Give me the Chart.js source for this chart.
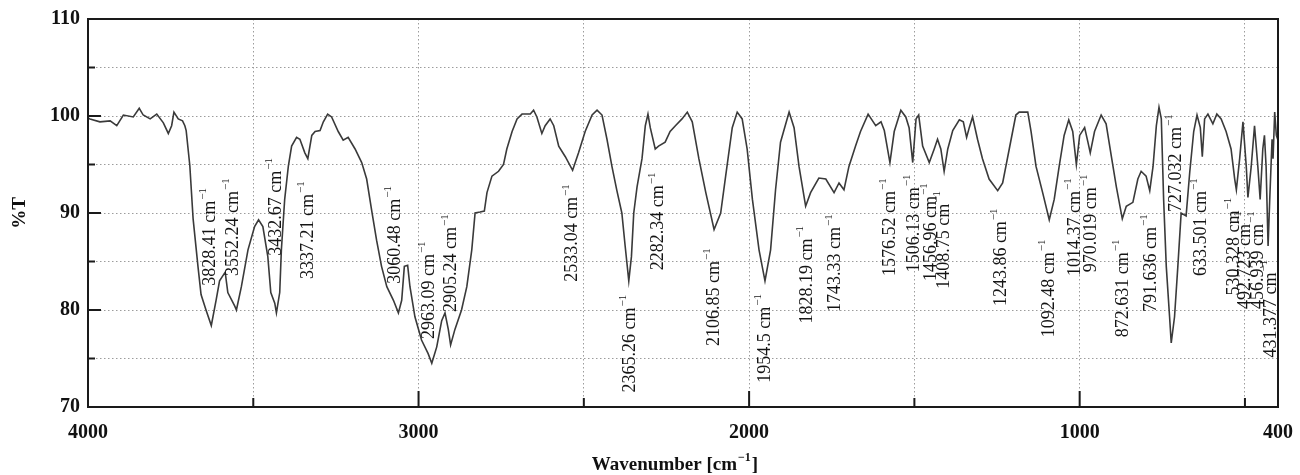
<!DOCTYPE html>
<html>
<head>
<meta charset="utf-8">
<script src="https://cdn.jsdelivr.net/npm/chart.js@4.4.1/dist/chart.umd.min.js"></script>
<style>
  html, body { margin: 0; padding: 0; background: #fff; }
  canvas { display: block; }
</style>
</head>
<body>
<canvas id="ir" width="1300" height="475"></canvas>
<script>
// ─── Spectrum (cm-1 / %T) ──────────────────────────────────────────────────
const wavenumber = [
  4000, 3994, 3964, 3933, 3913, 3893, 3863, 3845, 3833, 3812, 3792, 3772, 3757, 3747, 3740, 3727, 3714, 3707,
  3703, 3692, 3682, 3667, 3658, 3643, 3627, 3612, 3602, 3585, 3577, 3556, 3551, 3536, 3516, 3496, 3484, 3471,
  3456, 3447, 3435, 3430, 3420, 3415, 3405, 3394, 3384, 3369, 3359, 3344, 3335, 3323, 3313, 3298, 3288, 3275,
  3263, 3243, 3228, 3213, 3192, 3172, 3157, 3142, 3127, 3112, 3096, 3076, 3061, 3051, 3043, 3033, 3026, 3011,
  2991, 2971, 2960, 2945, 2930, 2920, 2910, 2903, 2890, 2870, 2854, 2839, 2829, 2814, 2801, 2793, 2778, 2758,
  2743, 2733, 2717, 2702, 2687, 2662, 2652, 2642, 2627, 2617, 2602, 2591, 2576, 2556, 2534, 2516, 2496, 2475,
  2460, 2445, 2430, 2415, 2400, 2385, 2375, 2364, 2356, 2349, 2339, 2324, 2314, 2306, 2299, 2284, 2274, 2254,
  2239, 2223, 2203, 2187, 2172, 2152, 2131, 2106, 2086, 2071, 2051, 2036, 2021, 2006, 1990, 1970, 1952, 1935,
  1920, 1905, 1879, 1864, 1849, 1829, 1814, 1789, 1768, 1743, 1728, 1713, 1698, 1678, 1663, 1640, 1617, 1601,
  1591, 1574, 1561, 1541, 1526, 1516, 1505, 1495, 1487, 1475, 1455, 1440, 1430, 1420, 1410, 1399, 1384, 1364,
  1352, 1342, 1334, 1324, 1309, 1294, 1274, 1248, 1233, 1213, 1193, 1183, 1157, 1147, 1132, 1112, 1092, 1077,
  1062, 1047, 1033, 1021, 1010, 1000, 985, 975, 968, 955, 935, 920, 904, 889, 871, 859, 839, 824,
  814, 799, 788, 778, 768, 760, 753, 746, 738, 728, 723, 713, 703, 693, 678, 667, 655, 645,
  635, 629, 622, 612, 597, 585, 572, 557, 542, 531, 526, 516, 506, 496, 491, 481, 471, 461,
  454, 446, 441, 436, 430, 425, 418, 415, 410, 405, 400
];
const transmittance = [
  99.8, 99.7, 99.4, 99.5, 99.0, 100.1, 99.9, 100.8, 100.1, 99.7, 100.2, 99.3, 98.2, 99.0, 100.4, 99.7, 99.5, 99.0,
  98.5, 94.9, 89.4, 84.4, 81.6, 80.0, 78.4, 81.1, 83.0, 83.9, 81.8, 80.4, 80.0, 82.4, 86.2, 88.6, 89.3, 88.6,
  85.5, 81.8, 80.7, 79.7, 81.8, 86.2, 91.4, 94.8, 96.9, 97.8, 97.6, 96.2, 95.6, 98.0, 98.4, 98.5, 99.4, 100.2,
  99.9, 98.4, 97.5, 97.8, 96.6, 95.2, 93.5, 90.3, 87.2, 84.5, 82.4, 81.0, 79.7, 81.0, 84.5, 84.6, 82.4, 79.3,
  76.9, 75.5, 74.5, 76.2, 78.9, 79.7, 78.0, 76.4, 78.0, 80.0, 82.4, 86.2, 90.0, 90.1, 90.2, 92.1, 93.8, 94.3,
  95.0, 96.6, 98.4, 99.7, 100.2, 100.2, 100.6, 99.9, 98.2, 99.0, 99.7, 99.0, 96.9, 95.8, 94.4, 96.2, 98.4, 100.1,
  100.6, 100.1, 97.6, 94.8, 92.3, 90.0, 86.6, 83.0, 85.5, 90.0, 92.7, 95.6, 99.0, 100.2, 98.8, 96.6, 96.9, 97.3,
  98.4, 99.0, 99.7, 100.4, 99.4, 95.6, 92.1, 88.3, 90.0, 93.8, 98.8, 100.4, 99.7, 96.6, 91.4, 86.2, 83.0, 86.2,
  92.4, 97.3, 100.4, 98.8, 94.8, 90.7, 92.1, 93.6, 93.5, 92.1, 93.1, 92.4, 94.8, 96.9, 98.4, 100.2, 99.0, 99.4,
  98.5, 95.2, 98.4, 100.6, 99.9, 98.8, 95.2, 99.7, 100.1, 96.9, 95.2, 96.6, 97.6, 96.6, 94.3, 96.6, 98.5, 99.6,
  99.4, 97.8, 98.8, 99.9, 97.6, 95.6, 93.5, 92.3, 93.1, 96.6, 100.1, 100.4, 100.4, 98.4, 94.8, 92.1, 89.3, 91.4,
  94.8, 98.0, 99.6, 98.4, 95.0, 98.0, 98.8, 97.3, 96.2, 98.4, 100.1, 99.2, 95.8, 92.7, 89.4, 90.7, 91.1, 93.5,
  94.3, 93.8, 92.3, 94.8, 99.0, 100.9, 99.7, 91.4, 84.5, 79.3, 76.6, 79.3, 84.5, 90.0, 89.7, 94.2, 98.4, 100.1,
  98.8, 95.8, 99.7, 100.2, 99.2, 100.2, 99.7, 98.4, 96.6, 93.5, 92.4, 95.6, 99.4, 94.8, 91.6, 94.8, 99.0, 94.8,
  91.4, 96.6, 98.0, 94.8, 86.6, 91.4, 97.6, 95.6, 100.4, 98.0, 97.5
];

// ─── Axes ───────────────────────────────────────────────────────────────────
const xTickLabels = [4000, 3000, 2000, 1000, 400];
const xGridValues = [3500, 3000, 2500, 2000, 1500, 1000, 500];
const yTickLabels = [110, 100, 90, 80, 70];
const yGridValues = [105, 100, 95, 90, 85, 80, 75];

// ─── Peak annotations: text, anchor wavenumber, %T at the foot of the text ──
const peakText = [
  '3828.41', '3552.24', '3432.67', '3337.21', '3060.48', '2963.09', '2905.24', '2533.04', '2365.26', '2282.34',
  '2106.85', '1954.5', '1828.19', '1743.33', '1576.52', '1506.13', '1456.96', '1408.75', '1243.86', '1092.48',
  '1014.37', '970.019', '872.631', '791.636', '727.032', '633.501', '530.328', '492.723', '456.939', '431.377'
];
const peakX = [
  3631, 3561, 3430, 3334, 3071, 2968, 2900, 2534, 2360, 2274,
  2106, 1952, 1824, 1738, 1574, 1500, 1450, 1410, 1238, 1092,
  1014, 966, 869, 784, 708, 632, 531, 500, 460, 420
];
const peakY = [
  82.5, 83.5, 85.6, 83.2, 82.7, 77.0, 79.8, 82.9, 71.5, 84.1,
  76.3, 72.5, 78.6, 79.8, 83.5, 83.9, 83.0, 82.2, 80.4, 77.2,
  83.5, 83.9, 77.2, 79.8, 90.1, 83.5, 81.5, 80.1, 80.1, 75.1
];

const SERIF = '"Liberation Serif", "Times New Roman", serif';

// text, a raised "-1", then an optional tail
function textWithSup(ctx, main, sup, tail, x, y, size, supSize, weight, align) {
  const big = `${weight} ${size}px ${SERIF}`;
  const small = `${weight} ${supSize}px ${SERIF}`;
  ctx.font = big;
  const w = ctx.measureText(main).width;
  const tw = tail ? ctx.measureText(tail).width : 0;
  ctx.font = small;
  const sw = ctx.measureText(sup).width;
  let x0 = x;
  if (align === 'center') x0 = x - (w + sw + 2 + tw) / 2;
  ctx.textAlign = 'left';
  ctx.textBaseline = 'middle';
  ctx.font = big;
  ctx.fillText(main, x0, y);
  if (tail) ctx.fillText(tail, x0 + w + sw + 2, y);
  ctx.font = small;
  ctx.fillText(sup, x0 + w + 1, y - size * 0.38);
}

const framePlugin = {
  id: 'frame',
  afterDatasetsDraw(chart) {
    const { ctx, chartArea: a, scales: { x, y } } = chart;
    ctx.save();
    // peak labels, rotated
    ctx.fillStyle = '#151515';
    peakText.forEach((t, i) => {
      ctx.save();
      ctx.translate(x.getPixelForValue(peakX[i]), y.getPixelForValue(peakY[i]));
      ctx.rotate(-Math.PI / 2);
      textWithSup(ctx, t + ' cm', '\u22121', '', 0, 0, 18, 11, 'normal', 'left');
      ctx.restore();
    });

    // box + inner ticks
    ctx.strokeStyle = '#1a1a1a';
    ctx.lineWidth = 2;
    ctx.strokeRect(a.left, a.top, a.right - a.left, a.bottom - a.top);
    ctx.beginPath();
    xGridValues.forEach(v => {
      const px = x.getPixelForValue(v);
      const len = v % 1000 === 0 ? 16 : 9;
      ctx.moveTo(px, a.bottom);
      ctx.lineTo(px, a.bottom - len);
    });
    yGridValues.forEach(v => {
      const py = y.getPixelForValue(v);
      const len = v % 10 === 0 ? 13 : 7;
      ctx.moveTo(a.left, py);
      ctx.lineTo(a.left + len, py);
    });
    ctx.stroke();

    // axis titles
    ctx.fillStyle = '#111';
    textWithSup(ctx, 'Wavenumber [cm', '\u22121', ']', (a.left + a.right) / 2 - 8, 465, 19, 12, 'bold', 'center');
    ctx.save();
    ctx.translate(20, (a.top + a.bottom) / 2);
    ctx.rotate(-Math.PI / 2);
    ctx.textAlign = 'center';
    ctx.textBaseline = 'middle';
    ctx.font = `bold 19px ${SERIF}`;
    ctx.fillText('%T', 0, 0);
    ctx.restore();
    ctx.restore();
  }
};

const gridStyle = values => ({
  drawTicks: false,
  lineWidth: 1,
  borderDash: [1.5, 2.5],
  color: c => c.tick && values.includes(c.tick.value) ? '#9c9c9c' : 'rgba(0,0,0,0)',
});

new Chart(document.getElementById('ir'), {
  type: 'line',
  data: {
    datasets: [{
      data: wavenumber.map((w, i) => ({ x: w, y: transmittance[i] })),
      borderColor: '#3a3a3a',
      borderWidth: 1.6,
      pointRadius: 0,
      tension: 0,
      fill: false,
    }],
  },
  options: {
    responsive: false,
    animation: false,
    layout: { padding: { top: 19, right: 22, left: 0, bottom: 0 } },
    plugins: { legend: { display: false }, tooltip: { enabled: false } },
    scales: {
      x: {
        type: 'linear',
        reverse: true,
        min: 400,
        max: 4000,
        afterBuildTicks: s => { s.ticks = [4000, 3500, 3000, 2500, 2000, 1500, 1000, 500, 400].map(v => ({ value: v })); },
        afterFit: s => { s.height = 68; s.paddingLeft = 0; s.paddingRight = 0; },
        ticks: {
          autoSkip: false,
          maxRotation: 0,
          padding: 14,
          color: '#111',
          font: { family: SERIF, size: 20, weight: 'bold' },
          callback: v => xTickLabels.includes(v) ? String(v) : '',
        },
        grid: gridStyle(xGridValues),
        border: { display: false, dash: [1.5, 2.5] },
      },
      y: {
        min: 70,
        max: 110,
        afterBuildTicks: s => { s.ticks = [70, 75, 80, 85, 90, 95, 100, 105, 110].map(v => ({ value: v })); },
        afterFit: s => { s.width = 88; s.paddingTop = 0; s.paddingBottom = 0; },
        ticks: {
          padding: 8,
          color: '#111',
          font: { family: SERIF, size: 20, weight: 'bold' },
          callback: v => yTickLabels.includes(v) ? String(v) : '',
        },
        grid: gridStyle(yGridValues),
        border: { display: false, dash: [1.5, 2.5] },
      },
    },
  },
  plugins: [framePlugin],
});
</script>
</body>
</html>
